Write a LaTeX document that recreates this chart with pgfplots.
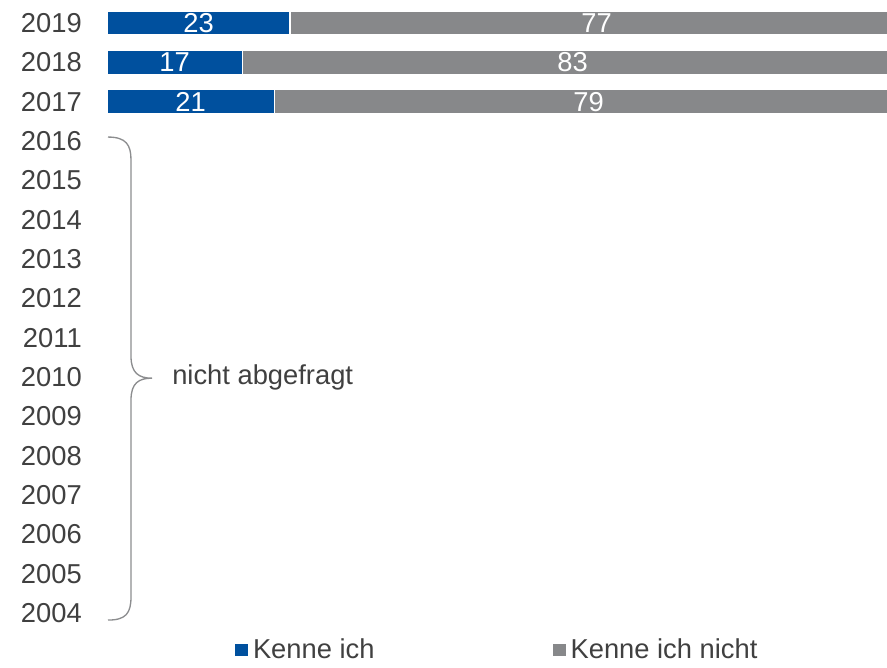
\documentclass[border=0pt]{standalone}
\usepackage{pgfplots}
\pgfplotsset{compat=1.18}
\usepackage{pgfplotstable}
\usepackage{fontspec}
\setmainfont{Liberation Sans}
\definecolor{kblue}{RGB}{0,80,158}
\definecolor{kgray}{RGB}{135,136,138}
\definecolor{ktext}{RGB}{64,64,64}
\definecolor{kbrace}{RGB}{140,141,143}
\pgfplotstableread{
year kenne nicht
2019 23 77
2018 17 83
2017 21 79
}\datatab
\begin{document}
\begin{tikzpicture}[font=\fontsize{20.5pt}{24pt}\selectfont, text=ktext]
\useasboundingbox (-80.25pt,-25.8pt) rectangle (585pt,474.5pt);
\begin{axis}[
  scale only axis,
  width=597pt, height=472pt,
  xmin=0, xmax=100, ymin=2003.5, ymax=2019.5,
  enlargelimits=false,
  clip=false,
  xbar stacked,
  bar width=0.61,
  axis line style={draw=none},
  xtick=\empty,
  ytick={2004,2005,...,2019},
  major tick length=0pt,
  ytick style={draw=none},
  /pgf/number format/assume math mode=true,
  yticklabel style={/pgf/number format/1000 sep={}, anchor=east, inner sep=0pt, xshift=-18.75pt, font=\fontsize{20.5pt}{24pt}\selectfont, text=ktext},
  point meta=explicit,
  nodes near coords={\pgfmathprintnumber{\pgfplotspointmeta}},
  every node near coord/.append style={anchor=center, text=white, font=\fontsize{20.5pt}{24pt}\selectfont},
  legend columns=2,
  legend style={draw=none, fill=none, at={(rel axis cs:0,0)}, anchor=west, xshift=96pt, yshift=-13pt, inner sep=0pt, outer sep=0pt,
    font=\fontsize{20.5pt}{24pt}\selectfont, text=ktext,
    nodes={inner sep=3.5pt},
    /tikz/every even column/.append style={column sep=130pt}},
  legend image code/.code={\fill[#1, draw=none] (0pt,-4.8pt) rectangle (10pt,4.8pt);},
]
\addplot[fill=kblue, draw=white, line width=0.9pt] table[x=kenne, y=year, meta=kenne] {\datatab};
\addplot[fill=kgray, draw=white, line width=0.9pt] table[x=nicht, y=year, meta=nicht] {\datatab};
\legend{Kenne ich, Kenne ich nicht}
\draw[kbrace, line width=1pt]
  (axis cs:0.126,2016.10) .. controls (axis cs:2.4,2016.10) and (axis cs:3.015,2015.9) .. (axis cs:3.015,2015.52)
  -- (axis cs:3.015,2010.53)
  .. controls (axis cs:3.015,2010.1) and (axis cs:4.0,2009.97) .. (axis cs:5.65,2009.97)
  .. controls (axis cs:4.0,2009.97) and (axis cs:3.015,2009.85) .. (axis cs:3.015,2009.41)
  -- (axis cs:3.015,2004.41)
  .. controls (axis cs:3.015,2004.0) and (axis cs:2.4,2003.82) .. (axis cs:0.126,2003.82);
\node[anchor=west, inner sep=0pt, text=ktext, font=\fontsize{20.5pt}{24pt}\selectfont] at (axis cs:8.17,2010) {nicht abgefragt};
\end{axis}
\end{tikzpicture}
\end{document}
